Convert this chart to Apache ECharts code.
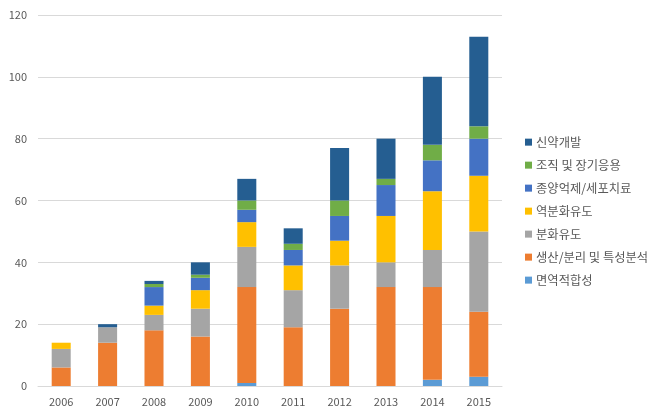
<!DOCTYPE html>
<html><head><meta charset="utf-8">
<script src="https://cdn.jsdelivr.net/npm/echarts@6/dist/echarts.min.js"></script>
<style>html,body{margin:0;padding:0;background:#fff}#c{width:664px;height:418px}</style>
</head><body><div id="c"></div>
<script>
const years = ['2006','2007','2008','2009','2010','2011','2012','2013','2014','2015'];
const seriesNames = ['면역적합성','생산/분리 및 특성분석','분화유도','역분화유도','종양억제/세포치료','조직 및 장기응용','신약개발'];
const immune      = [0,0,0,0,1,0,0,0,2,3];
const production  = [6,14,18,16,31,19,25,32,30,21];
const diff        = [6,5,5,9,13,12,14,8,12,26];
const reprog      = [2,0,3,6,8,8,8,15,19,18];
const tumor       = [0,0,6,4,4,5,8,10,10,12];
const tissue      = [0,0,1,1,3,2,5,2,5,4];
const drug        = [0,1,1,4,7,5,17,13,22,29];
const colors = ['#5B9BD5','#ED7D31','#A5A5A5','#FFC000','#4472C4','#70AD47','#255E91'];
const values = [immune, production, diff, reprog, tumor, tissue, drug];
const font = '"Noto Sans CJK KR", sans-serif';
const chart = echarts.init(document.getElementById('c'));
chart.setOption({
  animation:false,
  textStyle:{fontFamily:font},
  grid:{left:38,right:162,top:15,bottom:32,containLabel:false},
  legend:{
    orient:'vertical', left:520, top:131,
    data: seriesNames.slice().reverse(),
    itemWidth:7,itemHeight:7,itemGap:10.7,
    icon:'rect',
    textStyle:{fontSize:12.3,color:'#595959',fontFamily:font,padding:[0,0,0,-1]}
  },
  xAxis:{
    type:'category', data:years,
    axisLine:{lineStyle:{color:'#D9D9D9',width:1}},
    axisTick:{show:false},
    axisLabel:{fontSize:11,color:'#595959',margin:10,fontFamily:font}
  },
  yAxis:{
    type:'value', min:0, max:120, interval:20,
    axisLine:{show:false}, axisTick:{show:false},
    splitLine:{lineStyle:{color:'#D9D9D9',width:1}},
    axisLabel:{fontSize:11,color:'#595959',margin:11,fontFamily:font}
  },
  series: seriesNames.map((n,i)=>({
    name:n, type:'bar', stack:'total', data:values[i],
    barWidth:'41%', itemStyle:{color:colors[i]}
  }))
});
</script></body></html>
